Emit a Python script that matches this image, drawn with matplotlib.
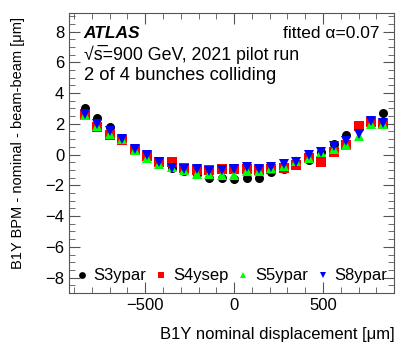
import matplotlib
matplotlib.use("Agg")
import matplotlib.pyplot as plt
from matplotlib.ticker import MultipleLocator
import numpy as np

plt.rcParams['font.family'] = ['Liberation Sans', 'DejaVu Sans']

# nominal displacement [um]
x = np.arange(-840, 841, 70)

s3ypar = [3.05, 2.4, 1.8, 1.1, 0.3, -0.25, -0.57, -0.9, -1.07, -1.28, -1.5, -1.5, -1.6,
          -1.5, -1.5, -1.13, -0.96, -0.7, -0.38, 0.16, 0.7, 1.25, 1.7, 2.0, 2.67]
s4ysep = [2.55, 1.8, 1.3, 0.92, 0.27, -0.1, -0.48, -0.49, -0.9, -0.98, -1.03, -0.96, -0.96,
          -0.96, -1.0, -0.92, -0.9, -0.7, -0.25, -0.49, 0.16, 0.6, 1.85, 2.1, 2.0]
s5ypar = [2.6, 1.85, 1.35, 1.0, 0.3, -0.2, -0.63, -0.8, -1.03, -1.24, -1.28, -1.35, -1.35,
          -1.07, -1.07, -0.9, -0.75, -0.42, -0.25, 0.16, 0.38, 0.6, 1.2, 2.0, 2.0]
s8ypar = [2.65, 2.0, 1.5, 0.98, 0.34, -0.05, -0.48, -0.85, -0.96, -0.96, -1.07, -1.0, -0.92,
          -0.81, -0.92, -0.81, -0.6, -0.5, -0.05, 0.16, 0.55, 0.88, 1.35, 2.17, 2.03]

fig = plt.figure(figsize=(4.14, 3.53), dpi=100)
ax = fig.add_axes([0.167, 0.170, 0.785, 0.793])

ax.plot(x, s3ypar, 'o', color='black', ms=6.5, mew=0, label='S3ypar')
ax.plot(x, s4ysep, 's', color='#ff0000', ms=6.5, mew=0, label='S4ysep')
ax.plot(x, s5ypar, '^', color='#00ff00', ms=6.5, mew=0, label='S5ypar')
ax.plot(x, s8ypar, 'v', color='#0000ff', ms=6.5, mew=0, label='S8ypar')

ax.set_xlim(-928, 900)
ax.set_ylim(-9, 9.2)
ax.xaxis.set_major_locator(MultipleLocator(500))
ax.xaxis.set_minor_locator(MultipleLocator(100))
ax.yaxis.set_major_locator(MultipleLocator(2))
ax.yaxis.set_minor_locator(MultipleLocator(0.5))
ax.tick_params(which='both', direction='in', top=True, right=True, labelsize=12, colors='#555555',
               labelcolor='black')
ax.tick_params(which='major', length=8)
ax.tick_params(which='minor', length=4)
for sp in ax.spines.values():
    sp.set_color('#555555')

ax.set_xlabel('B1Y nominal displacement [μm]', fontsize=12, loc='right', labelpad=10)
ax.set_ylabel('B1Y BPM - nominal - beam-beam [μm]', fontsize=10.5, loc='top')
ax.yaxis.set_label_coords(-0.135, 0.985)

ax.text(0.045, 0.928, 'ATLAS', transform=ax.transAxes, fontsize=12.5, fontweight='bold',
        fontstyle='italic', va='center')
ax.text(0.955, 0.928, 'fitted α=0.07', transform=ax.transAxes, fontsize=12.5, ha='right', va='center')
ax.text(0.045, 0.852, '\u221as\u0305=900 GeV, 2021 pilot run', transform=ax.transAxes, fontsize=12.8,
        va='center')
ax.text(0.045, 0.776, '2 of 4 bunches colliding', transform=ax.transAxes, fontsize=13.2, va='center')

ax.legend(loc='center left', bbox_to_anchor=(0.018, 0.061), ncol=4, frameon=False, fontsize=12,
          handletextpad=0.3, columnspacing=0.5, handlelength=0.8, markerscale=0.75,
          borderpad=0, borderaxespad=0)

fig.savefig('out.png', dpi=100)
